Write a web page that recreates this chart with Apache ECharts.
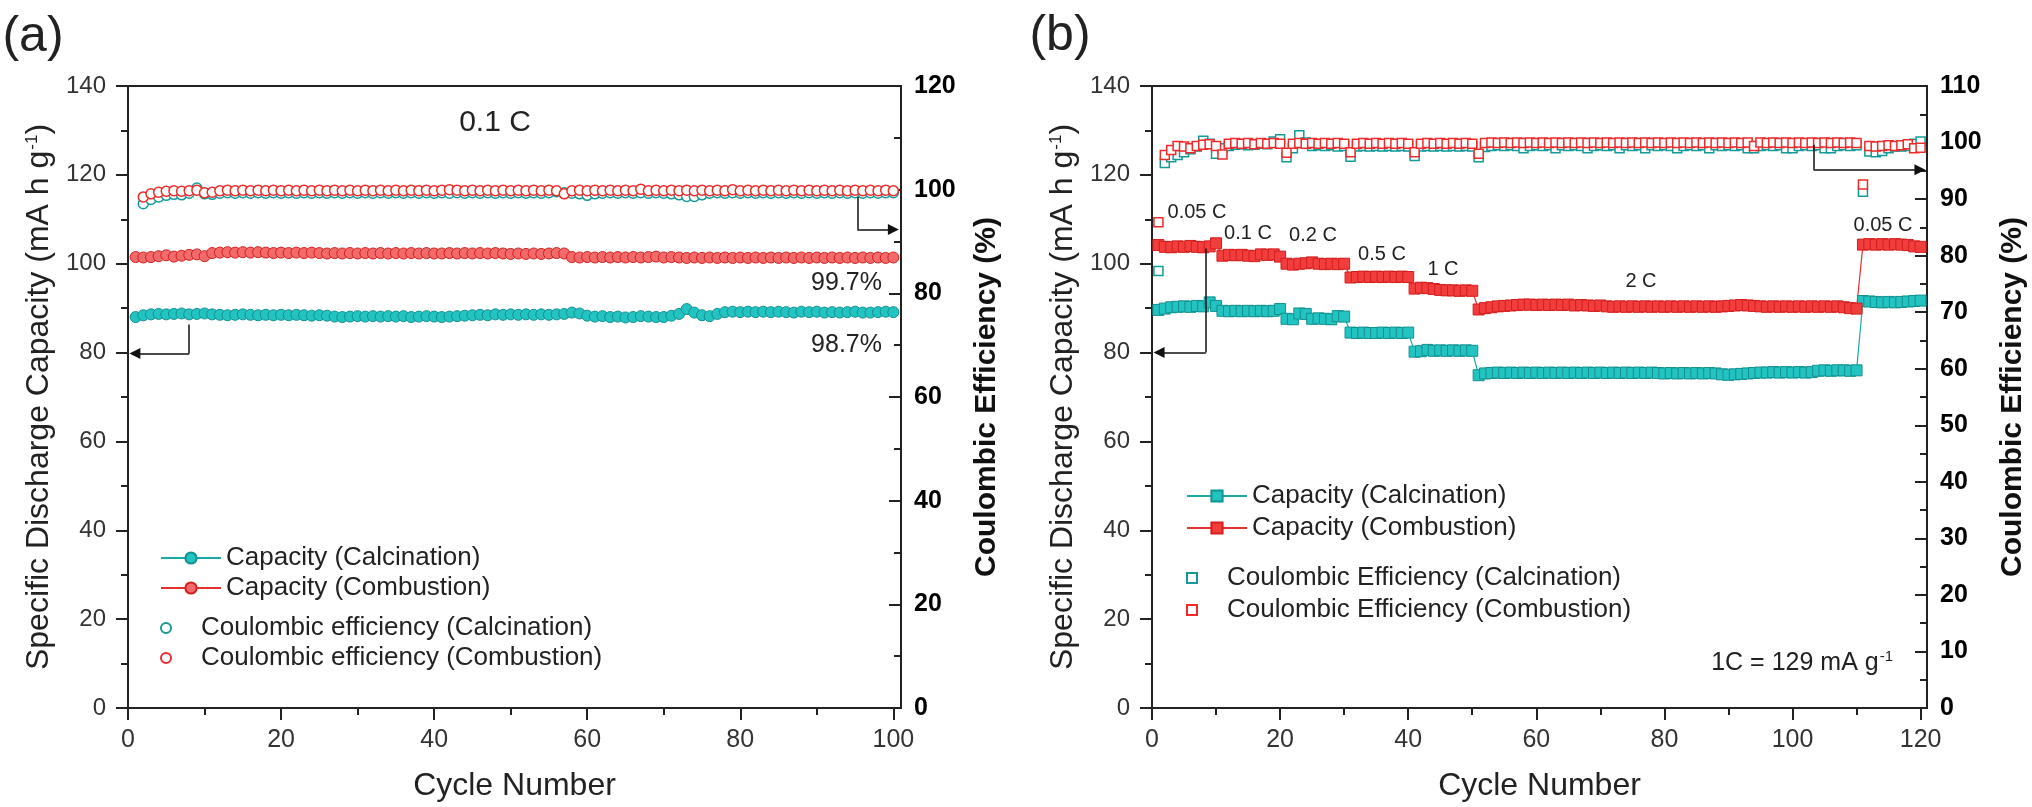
<!DOCTYPE html>
<html>
<head>
<meta charset="utf-8">
<script src="https://cdn.jsdelivr.net/npm/echarts@6/dist/echarts.min.js"></script>
<style>
  html, body { margin: 0; padding: 0; background: #fff; }
  #chart { width: 2032px; height: 807px; }
</style>
</head>
<body>
<div id="chart"></div>
<script>
// ---- data (a): 0.1 C cycling, cycle n = index + 1 ----
var capCalcA = [
  88.0, 88.4, 88.6, 88.7, 88.6, 88.7, 88.8, 88.6, 88.7, 88.8,
  88.6, 88.5, 88.4, 88.5, 88.6, 88.5, 88.4, 88.5, 88.4, 88.5,
  88.4, 88.5, 88.4, 88.3, 88.4, 88.3, 88.1, 88.0, 88.1, 88.2,
  88.1, 88.2, 88.1, 88.2, 88.1, 88.2, 88.0, 88.1, 88.2, 88.1,
  88.0, 88.1, 88.2, 88.3, 88.4, 88.5, 88.4, 88.6, 88.5, 88.6,
  88.5, 88.6, 88.5, 88.6, 88.5, 88.6, 88.7, 89.0, 88.8, 88.3,
  88.1, 88.2, 88.0, 88.1, 87.9, 88.0, 88.2, 88.1, 88.0, 88.0,
  88.3, 88.7, 89.8, 89.0, 88.4, 88.2, 88.7, 89.1, 89.2, 89.1,
  89.2, 89.1, 89.2, 89.1, 89.2, 89.1, 89.0, 89.2, 89.1, 89.2,
  89.0, 89.1, 89.0, 89.1, 89.2, 89.0, 89.0, 89.1, 89.2, 89.1
];
var capCombA = [
  101.5, 101.4, 101.5, 101.7, 101.9, 101.6, 101.8, 102.0, 102.1, 101.7,
  102.4, 102.5, 102.6, 102.5, 102.6, 102.5, 102.6, 102.5, 102.4, 102.5,
  102.4, 102.5, 102.4, 102.5, 102.4, 102.3, 102.4, 102.3, 102.4, 102.3,
  102.4, 102.3, 102.4, 102.3, 102.4, 102.3, 102.4, 102.3, 102.4, 102.3,
  102.3, 102.4, 102.3, 102.4, 102.3, 102.4, 102.3, 102.4, 102.3, 102.2,
  102.3, 102.2, 102.3, 102.2, 102.3, 102.4, 102.3, 101.5, 101.4, 101.5,
  101.4, 101.5, 101.4, 101.5, 101.4, 101.5, 101.4, 101.5, 101.6, 101.4,
  101.5, 101.4, 101.3, 101.4, 101.3, 101.4, 101.3, 101.4, 101.3, 101.4,
  101.3, 101.4, 101.3, 101.4, 101.3, 101.4, 101.3, 101.4, 101.3, 101.4,
  101.3, 101.4, 101.3, 101.4, 101.3, 101.4, 101.3, 101.4, 101.3, 101.4
];
var ceCalcA = [
  null, 97.3, 98.1, 98.6, 98.9, 99.1, 99.0, 99.3, 100.3, 99.2,
  99.1, 99.3, 99.4, 99.3, 99.4, 99.3, 99.4, 99.3, 99.4, 99.3,
  99.4, 99.3, 99.4, 99.3, 99.4, 99.3, 99.4, 99.3, 99.4, 99.3,
  99.4, 99.3, 99.4, 99.3, 99.4, 99.3, 99.4, 99.3, 99.4, 99.3,
  99.4, 99.3, 99.4, 99.3, 99.4, 99.3, 99.4, 99.3, 99.4, 99.3,
  99.4, 99.3, 99.4, 99.3, 99.4, 99.6, 99.4, 99.3, 99.2, 98.9,
  99.2, 99.3, 99.4, 99.3, 99.4, 99.3, 99.4, 99.3, 99.4, 99.3,
  99.2, 99.0, 98.7, 98.7, 99.0, 99.3, 99.4, 99.3, 99.4, 99.3,
  99.4, 99.3, 99.4, 99.3, 99.4, 99.3, 99.4, 99.3, 99.4, 99.3,
  99.4, 99.3, 99.4, 99.3, 99.4, 99.3, 99.4, 99.3, 99.4, 99.4
];
var ceCombA = [
  null, 98.6, 99.2, 99.5, 99.7, 99.8, 99.7, 99.8, 99.9, 99.4,
  99.5, 99.8, 99.9, 99.8, 99.9, 99.8, 99.9, 99.8, 99.9, 99.8,
  99.9, 99.8, 99.9, 99.8, 99.9, 99.8, 99.9, 99.8, 99.9, 99.8,
  99.9, 99.8, 99.9, 99.8, 99.9, 99.8, 99.9, 99.8, 99.9, 99.8,
  99.9, 100.0, 99.9, 99.8, 99.9, 99.8, 99.9, 99.8, 99.9, 99.8,
  99.9, 99.8, 99.9, 99.8, 99.9, 99.8, 99.2, 99.8, 99.9, 99.8,
  99.9, 99.8, 99.9, 99.8, 99.9, 99.8, 100.1, 99.8, 99.9, 99.8,
  99.9, 99.8, 99.9, 99.8, 99.9, 99.8, 99.9, 99.8, 100.0, 99.8,
  99.9, 99.8, 99.9, 99.8, 99.9, 99.8, 99.9, 99.8, 99.9, 99.8,
  99.9, 99.8, 99.9, 99.8, 99.9, 99.8, 99.9, 99.8, 99.9, 99.8
];

// ---- data (b): rate capability, cycle n = index + 1 ----
var capCalcB = [
  89.6, 89.9, 90.2, 90.3, 90.4, 90.3, 90.5, 90.4, 91.3, 90.5,
  89.4, 89.3, 89.4, 89.3, 89.4, 89.3, 89.4, 89.3, 89.4, 89.8,
  87.6, 87.5, 88.8, 88.7, 87.6, 87.7, 87.6, 87.5, 88.2, 88.1,
  84.5, 84.4, 84.5, 84.4, 84.4, 84.5, 84.4, 84.5, 84.4, 84.5,
  80.2, 80.3, 80.6, 80.4, 80.5, 80.4, 80.5, 80.4, 80.5, 80.4,
  74.9, 75.3, 75.4, 75.5, 75.4, 75.5, 75.4, 75.5, 75.4, 75.5,
  75.4, 75.5, 75.4, 75.5, 75.4, 75.5, 75.4, 75.5, 75.4, 75.5,
  75.4, 75.5, 75.4, 75.5, 75.4, 75.5, 75.4, 75.5, 75.4, 75.3,
  75.4, 75.3, 75.4, 75.3, 75.4, 75.3, 75.4, 75.3, 75.1, 75.0,
  75.1, 75.2, 75.3, 75.4, 75.5, 75.5, 75.6, 75.5, 75.6, 75.5,
  75.6, 75.5, 75.6, 75.9, 76.0, 75.9, 76.0, 76.0, 75.9, 76.0,
  91.6, 91.5, 91.4, 91.3, 91.4, 91.3, 91.4, 91.5, 91.6, 91.7
];
var capCombB = [
  104.2, 103.8, 103.7, 103.9, 103.8, 104.0, 103.8, 103.7, 103.9, 104.6,
  101.8, 102.0, 101.9, 102.0, 101.8, 101.7, 102.1, 102.0, 102.1, 101.6,
  100.0, 99.8, 100.0, 100.1, 100.3, 100.0, 99.9, 100.0, 99.9, 100.0,
  96.9, 97.0, 97.1, 97.0, 97.1, 97.0, 97.1, 97.0, 97.1, 97.0,
  94.4, 94.6, 94.5, 94.3, 94.1, 94.0, 94.0, 93.9, 94.0, 93.9,
  89.7, 90.0, 90.2, 90.4, 90.5, 90.6, 90.7, 90.8, 90.8, 90.7,
  90.8, 90.7, 90.8, 90.7, 90.8, 90.6, 90.7, 90.6, 90.5, 90.6,
  90.4, 90.3, 90.4, 90.3, 90.4, 90.3, 90.4, 90.3, 90.4, 90.3,
  90.4, 90.3, 90.4, 90.3, 90.4, 90.3, 90.4, 90.3, 90.4, 90.5,
  90.6, 90.7, 90.6, 90.5, 90.4, 90.3, 90.4, 90.3, 90.4, 90.3,
  90.4, 90.3, 90.4, 90.3, 90.4, 90.3, 90.4, 90.2, 90.0, 89.9,
  104.3, 104.4, 104.3, 104.4, 104.3, 104.4, 104.3, 104.2, 103.9, 103.8
];
var ceCalcB = [
  77.3, 96.4, 97.4, 97.8, 98.3, 98.8, 99.3, 100.3, 99.8, 98.0,
  99.0, 99.4, 99.6, 99.7, 99.5, 99.6, 99.8, 99.7, 100.2, 100.6,
  97.4, 99.0, 101.3, 100.0, 99.4, 99.5, 99.4, 99.5, 99.3, 99.4,
  97.5, 99.3, 99.4, 99.3, 99.4, 99.3, 99.4, 99.3, 99.4, 99.3,
  97.6, 99.3, 99.4, 99.3, 99.4, 99.3, 99.4, 99.3, 99.4, 99.3,
  97.4, 99.2, 99.4, 99.5, 99.4, 99.5, 99.4, 99.0, 99.4, 99.5,
  99.4, 99.5, 99.0, 99.5, 99.4, 99.5, 99.4, 99.0, 99.4, 99.5,
  99.4, 99.5, 99.0, 99.5, 99.4, 99.5, 99.0, 99.5, 99.4, 99.5,
  99.4, 99.0, 99.4, 99.5, 99.4, 99.5, 99.0, 99.5, 99.4, 99.5,
  99.4, 99.5, 99.0, 99.0, 99.4, 99.5, 99.4, 99.5, 99.0, 99.0,
  99.4, 99.5, 99.4, 99.5, 99.0, 99.0, 99.4, 99.5, 99.4, 99.5,
  91.3, 98.4, 98.3, 98.5, 99.0, 99.3, 99.3, 99.4, 99.8, 100.2
];
var ceCombB = [
  85.9, 97.8, 98.7, 99.4, 99.3, 99.0, 99.4, 99.6, 99.7, 99.4,
  97.9, 99.8, 99.9, 99.8, 99.9, 99.7, 99.9, 99.8, 99.9, 99.8,
  98.2, 99.8, 99.9, 99.8, 99.9, 99.8, 99.9, 99.8, 99.9, 99.8,
  98.3, 99.8, 99.9, 99.8, 99.9, 99.8, 99.9, 99.8, 99.9, 99.8,
  98.3, 99.8, 99.9, 99.8, 99.9, 99.8, 99.9, 99.8, 99.9, 99.8,
  98.0, 99.9, 100.0, 99.9, 100.0, 99.9, 100.0, 99.9, 100.0, 99.9,
  100.0, 99.9, 100.0, 99.9, 100.0, 99.9, 100.0, 99.9, 100.0, 99.9,
  100.0, 99.9, 100.0, 99.9, 100.0, 99.9, 100.0, 99.9, 100.0, 99.9,
  100.0, 99.9, 100.0, 99.9, 100.0, 99.9, 100.0, 99.9, 100.0, 99.9,
  100.0, 99.9, 100.0, 99.4, 100.0, 99.9, 100.0, 99.9, 100.0, 99.9,
  100.0, 99.9, 100.0, 99.9, 100.0, 99.9, 100.0, 99.9, 100.0, 99.9,
  92.6, 99.4, 99.3, 99.4, 99.5, 99.4, 99.5, 99.7, 99.0, 99.1
];

// tick labels
var xTicksA = [0, 20, 40, 60, 80, 100];
var xMinorA = [10, 30, 50, 70, 90];
var xTicksB = [0, 20, 40, 60, 80, 100, 120];
var xMinorB = [10, 30, 50, 70, 90, 110];

// rate labels of panel (b)
var rateLabels = ['0.05 C', '0.1 C', '0.2 C', '0.5 C', '1 C', '2 C', '0.05 C'];

var FONT = "'Liberation Sans', Arial, Helvetica, sans-serif";
var AXIS = '#222';
var TEAL_FILL = '#22C3C1', TEAL_EDGE = '#12918F', TEAL_LINE = '#1AA9A6';
var RED_FILL_A = '#F26A6A', RED_FILL_B = '#F23D3D', RED_EDGE = '#D41E1E', RED_LINE = '#E53030';
var TEAL_CE = '#169A98', RED_CE = '#EE2A2A';
var SQUARE_ICON = 'path://M0,0L10,0L10,10L0,10Z';

function pairs(arr) {
  var out = [];
  arr.forEach(function (v, i) { if (v !== null) out.push([i + 1, v]); });
  return out;
}

function xMain(grid, max, ticks) {
  return {
    type: 'value', gridIndex: grid, position: 'bottom', min: 0, max: max, interval: 20,
    axisLine: { show: true, onZero: false, lineStyle: { color: AXIS, width: 2 } },
    axisTick: { show: true, length: 12, customValues: ticks, lineStyle: { color: AXIS, width: 2 } },
    axisLabel: { customValues: ticks, fontSize: 25, color: '#333', fontFamily: FONT, margin: 20 },
    splitLine: { show: false },
    name: 'Cycle Number', nameLocation: 'middle', nameGap: 62,
    nameTextStyle: { fontSize: 32, color: '#222', fontFamily: FONT }
  };
}
function xMinor(grid, max, ticks) {
  return {
    type: 'value', gridIndex: grid, position: 'bottom', min: 0, max: max,
    axisLine: { show: false, onZero: false },
    axisTick: { show: true, length: 7, customValues: ticks, lineStyle: { color: AXIS, width: 2 } },
    axisLabel: { show: false },
    splitLine: { show: false }
  };
}
function yLeft(grid) {
  return {
    type: 'value', gridIndex: grid, position: 'left', min: 0, max: 140, interval: 20,
    axisLine: { show: true, onZero: false, lineStyle: { color: AXIS, width: 2 } },
    axisTick: { show: true, length: 12, lineStyle: { color: AXIS, width: 2 } },
    minorTick: { show: true, splitNumber: 2, length: 7, lineStyle: { color: AXIS, width: 2 } },
    axisLabel: { fontSize: 24, color: '#333', fontFamily: FONT, margin: 22 },
    splitLine: { show: false }, minorSplitLine: { show: false },
    name: 'Specific Discharge Capacity (mA h g{sup|-1})', nameLocation: 'middle', nameGap: 73,
    nameTextStyle: {
      fontSize: 32, color: '#222', fontFamily: FONT,
      rich: { sup: { fontSize: 17, color: '#222', fontFamily: FONT, padding: [0, 0, 14, 1] } }
    }
  };
}
function yRight(grid, max, interval) {
  return {
    type: 'value', gridIndex: grid, position: 'right', min: 0, max: max, interval: interval,
    axisLine: { show: true, onZero: false, lineStyle: { color: AXIS, width: 2 } },
    axisTick: { show: true, inside: true, length: 12, lineStyle: { color: AXIS, width: 2 } },
    minorTick: { show: true, splitNumber: 2, length: 7, lineStyle: { color: AXIS, width: 2 } },
    axisLabel: { fontSize: 25, fontWeight: 'bold', color: '#000', fontFamily: FONT, margin: 13 },
    splitLine: { show: false }, minorSplitLine: { show: false },
    name: 'Coulombic Efficiency (%)', nameLocation: 'middle', nameGap: 71,
    nameTextStyle: { fontSize: 30, fontWeight: 'bold', color: '#111', fontFamily: FONT }
  };
}

function capSeries(name, arr, xi, yi, symbol, size, fill, edge, line) {
  return {
    name: name, type: 'line', xAxisIndex: xi, yAxisIndex: yi, data: pairs(arr),
    symbol: symbol, symbolSize: size, showAllSymbol: true,
    lineStyle: { color: line, width: 1.2 },
    itemStyle: { color: fill, borderColor: edge, borderWidth: 1 },
    z: 3
  };
}
function ceSeries(name, arr, xi, yi, symbol, size, color) {
  return {
    name: name, type: 'scatter', xAxisIndex: xi, yAxisIndex: yi, data: pairs(arr),
    symbol: symbol, symbolSize: size,
    itemStyle: { color: '#fff', borderColor: color, borderWidth: 1.5, opacity: 1 },
    z: 2
  };
}
// annotation arrow: a plain segment followed by a segment ending in an arrowhead
function segment(xi, yi, from, to, head) {
  return {
    type: 'lines', coordinateSystem: 'cartesian2d', xAxisIndex: xi, yAxisIndex: yi,
    symbol: head ? ['none', 'triangle'] : ['none', 'none'], symbolSize: 11,
    lineStyle: { color: '#111', width: 1.5, opacity: 1 },
    data: [{ coords: [from, to] }], z: 5, silent: true
  };
}
function legend(left, top, gap, h, names) {
  return {
    orient: 'vertical', left: left, top: top, itemGap: gap, itemWidth: 60, itemHeight: h,
    selectedMode: false, data: names,
    textStyle: { fontSize: 26, color: '#222', fontFamily: FONT }
  };
}
function label(x, y, text, size, align) {
  return {
    type: 'text', x: x, y: y, silent: true,
    style: {
      text: text, fontSize: size, fontFamily: FONT, fill: '#222',
      align: align || 'center', verticalAlign: 'middle',
      rich: { sup: { fontSize: 15, fontFamily: FONT, fill: '#222', padding: [0, 0, 12, 1] } }
    }
  };
}

var chart = echarts.init(document.getElementById('chart'), null, { renderer: 'canvas' });
chart.setOption({
  animation: false,
  backgroundColor: '#fff',
  grid: [
    { left: 128, top: 86, width: 773, height: 622, show: true, borderColor: AXIS, borderWidth: 2, backgroundColor: 'transparent', outerBoundsMode: 'none' },
    { left: 1152, top: 86, width: 775, height: 622, show: true, borderColor: AXIS, borderWidth: 2, backgroundColor: 'transparent', outerBoundsMode: 'none' }
  ],
  xAxis: [xMain(0, 101, xTicksA), xMinor(0, 101, xMinorA), xMain(1, 121, xTicksB), xMinor(1, 121, xMinorB)],
  yAxis: [yLeft(0), yRight(0, 120, 20), yLeft(1), yRight(1, 110, 10)],
  legend: [
    legend(155, 540, 4, 14, ['Capacity (Calcination)', 'Capacity (Combustion)']),
    legend(155, 610, 4, 10, ['Coulombic efficiency (Calcination)', 'Coulombic efficiency (Combustion)']),
    legend(1181, 478, 6, 14, ['Capacity (Calcination) ', 'Capacity (Combustion) ']),
    legend(1181, 560, 6, 10, [
      { name: 'Coulombic Efficiency (Calcination)', icon: SQUARE_ICON },
      { name: 'Coulombic Efficiency (Combustion)', icon: SQUARE_ICON }
    ])
  ],
  series: [
    ceSeries('Coulombic efficiency (Calcination)', ceCalcA, 0, 1, 'circle', 10, TEAL_CE),
    ceSeries('Coulombic efficiency (Combustion)', ceCombA, 0, 1, 'circle', 10, RED_CE),
    capSeries('Capacity (Calcination)', capCalcA, 0, 0, 'circle', 11, TEAL_FILL, TEAL_EDGE, TEAL_LINE),
    capSeries('Capacity (Combustion)', capCombA, 0, 0, 'circle', 11, RED_FILL_A, RED_EDGE, RED_LINE),
    segment(0, 0, [8, 86.3], [8, 79.8], false),
    segment(0, 0, [8, 79.8], [0.9, 79.8], true),
    segment(0, 1, [95.3, 98.6], [95.3, 92.3], false),
    segment(0, 1, [95.3, 92.3], [100.0, 92.3], true),

    ceSeries('Coulombic Efficiency (Calcination)', ceCalcB, 2, 3, 'rect', 9, TEAL_CE),
    ceSeries('Coulombic Efficiency (Combustion)', ceCombB, 2, 3, 'rect', 9, RED_CE),
    capSeries('Capacity (Calcination) ', capCalcB, 2, 2, 'rect', 11, TEAL_FILL, TEAL_EDGE, TEAL_LINE),
    capSeries('Capacity (Combustion) ', capCombB, 2, 2, 'rect', 11, RED_FILL_B, RED_EDGE, RED_LINE),
    segment(2, 2, [8.4, 103.4], [8.4, 80.0], false),
    segment(2, 2, [8.4, 80.0], [1.1, 80.0], true),
    segment(2, 3, [103.3, 99.6], [103.3, 95.2], false),
    segment(2, 3, [103.3, 95.2], [119.9, 95.2], true)
  ],
  graphic: [
    label(33, 37, '(a)', 50),
    label(1060, 36, '(b)', 50),
    label(495, 123, '0.1 C', 30),
    label(882, 283, '99.7%', 25, 'right'),
    label(882, 345, '98.7%', 25, 'right'),
    label(1197, 212, rateLabels[0], 20),
    label(1248, 233, rateLabels[1], 20),
    label(1313, 235, rateLabels[2], 20),
    label(1382, 254, rateLabels[3], 20),
    label(1443, 269, rateLabels[4], 20),
    label(1641, 281, rateLabels[5], 20),
    label(1883, 225, rateLabels[6], 20),
    label(1893, 663, '1C = 129 mA g{sup|-1}', 25, 'right')
  ]
});
window.addEventListener('resize', function () { chart.resize(); });
</script>
</body>
</html>
